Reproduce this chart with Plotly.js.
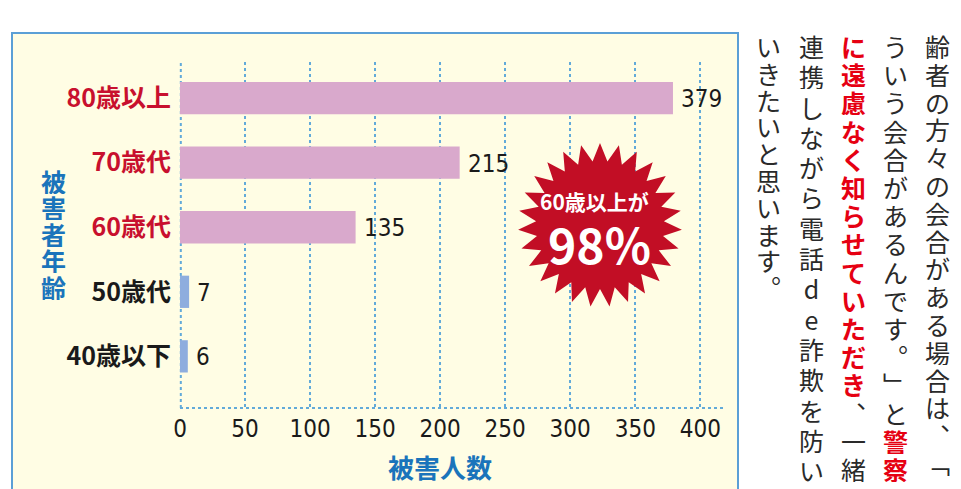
<!DOCTYPE html>
<html>
<head>
<meta charset="utf-8">
<script src="https://cdn.plot.ly/plotly-3.0.1.min.js"></script>
<style>
  html, body { margin: 0; padding: 0; background: #ffffff; }
  #chart { width: 961px; height: 489px; }
</style>
</head>
<body>
<div id="chart"></div>
<script>
// ---------- data ----------
const categories = ["40歳以下", "50歳代", "60歳代", "70歳代", "80歳以上"];
const victims = [6, 7, 135, 215, 379];
const xTickVals = [0, 50, 100, 150, 200, 250, 300, 350, 400];
const xTickLabels = ["0", "50", "100", "150", "200", "250", "300", "350", "400"];
const yTitle = "被害者年齢";
const xTitle = "被害人数";
const badgeLine1 = "60歳以上が";
const badgeLine2 = "98%";
const elderlyCategories = ["60歳代", "70歳代", "80歳以上"];

// article text (vertical, right to left)
const articleColumns = [
  "齢者の方々の会合がある場合は︑﹁",
  "ういう会合があるんです︒﹂と警察",
  "に遠慮なく知らせていただき︑一緒",
  "連携しながら電話de詐欺を防い",
  "いきたいと思います︒"
];
const articleRed = [
  [],
  [14, 15],
  [0,1,2,3,4,5,6,7,8,9,10,11,12],
  [],
  []
];

// ---------- styles ----------
const PINK = "#d9a9cc", LIGHTBLUE = "#8eadde";
const RED_LABEL = "#c8102e", BLUE_TITLE = "#1a74bb", GRID = "#62aad9";
const CJK = "'Noto Sans CJK JP', 'Noto Sans', sans-serif";
const NARROW = "'Liberation Sans Narrow', 'DejaVu Sans Condensed', 'Roboto Condensed', sans-serif";

const L = 180, R = 725, T = 62, B = 408;
const px = p => (p - L) / (R - L);
const py = p => (B - p) / (B - T);

const isElderly = c => elderlyCategories.indexOf(c) >= 0;
const barColors = categories.map(c => isElderly(c) ? PINK : LIGHTBLUE);
const tickText = categories.map(c =>
  `<span style="color:${isElderly(c) ? RED_LABEL : '#1a1a1a'}">${c}</span>`);

const trace = {
  type: "bar",
  orientation: "h",
  x: victims,
  y: categories,
  marker: { color: barColors, line: { width: 0 } },
  width: 0.5,
  hoverinfo: "x+y",
  cliponaxis: false
};

// ---------- annotations ----------
const annotations = [];
// value labels
categories.forEach((c, i) => {
  annotations.push({
    x: victims[i], y: c, xref: "x", yref: "y",
    text: String(victims[i]), showarrow: false,
    xanchor: "left", yanchor: "middle", xshift: 6, yshift: -1,
    font: { family: NARROW, size: 24, color: "#1a1a1a" }
  });
});
// y title (vertical)
Array.from(yTitle).forEach((ch, i) => {
  annotations.push({
    x: px(53), y: py(181 + i * 26.4), xref: "paper", yref: "paper",
    text: ch, showarrow: false, xanchor: "center", yanchor: "middle",
    height: 26, width: 27,
    font: { family: CJK, size: 25, color: BLUE_TITLE, weight: "bold" }
  });
});
// x title
annotations.push({
  x: px(440), y: py(467), xref: "paper", yref: "paper",
  text: xTitle, showarrow: false, xanchor: "center", yanchor: "middle",
  font: { family: CJK, size: 26, color: BLUE_TITLE, weight: "bold" }
});
// badge text
annotations.push({
  x: px(594), y: py(201), xref: "paper", yref: "paper",
  text: badgeLine1, showarrow: false, xanchor: "center", yanchor: "middle",
  font: { family: CJK, size: 21, color: "#ffffff", weight: "bold" }
});
annotations.push({
  x: px(599), y: py(243), xref: "paper", yref: "paper",
  text: badgeLine2, showarrow: false, xanchor: "center", yanchor: "middle",
  font: { family: CJK, size: 48, color: "#ffffff", weight: "bold" }
});
// vertical article text
const colX = [937, 895, 853, 811, 768];
const colPitch = [27.8, 28.2, 28.2, 30.3, 26.8];
articleColumns.forEach((col, ci) => {
  Array.from(col).forEach((ch, i) => {
    const red = articleRed[ci].indexOf(i) >= 0;
    annotations.push({
      x: px(colX[ci]), y: py(46 + i * colPitch[ci]), xref: "paper", yref: "paper",
      text: ch, showarrow: false, xanchor: "center", yanchor: "middle",
      height: 26, width: 27,
      font: { family: CJK, size: 25, color: red ? "#e60012" : "#2a2a2a",
              weight: red ? 600 : "normal" }
    });
  });
});

// ---------- shapes ----------
function starPath(cx, cy, rOut, rIn, n) {
  let d = "";
  for (let k = 0; k < 2 * n; k++) {
    const a = -Math.PI / 2 + k * Math.PI / n;
    const r = (k % 2 === 0) ? rOut : rIn;
    const X = px(cx + r * Math.cos(a)), Y = py(cy + r * Math.sin(a));
    d += (k === 0 ? "M" : "L") + X.toFixed(5) + "," + Y.toFixed(5);
  }
  return d + "Z";
}
const shapes = [
  { type: "rect", xref: "paper", yref: "paper", layer: "below",
    x0: px(12), x1: px(738), y0: py(33), y1: py(520),
    fillcolor: "#fffde4", line: { color: "#5b9fd6", width: 2 } },
  { type: "line", xref: "paper", yref: "paper", layer: "below",
    x0: 0, x1: 1, y0: 0, y1: 0, line: { color: GRID, width: 2, dash: "dot" } },
  { type: "line", xref: "paper", yref: "paper", layer: "below",
    x0: 0.0015, x1: 0.0015, y0: 0, y1: 1, line: { color: GRID, width: 2, dash: "dot" } },
  { type: "path", xref: "paper", yref: "paper", layer: "above",
    path: starPath(600, 225, 82, 64, 27), fillcolor: "#c20e25", line: { width: 0 } }
];

const layout = {
  width: 961, height: 489,
  margin: { l: L, r: 961 - R, t: T, b: 489 - B, pad: 0 },
  paper_bgcolor: "#ffffff",
  plot_bgcolor: "rgba(0,0,0,0)",
  showlegend: false,
  bargap: 0.5,
  xaxis: {
    range: [0, 419], tickvals: xTickVals, ticktext: xTickLabels,
    showgrid: true, gridcolor: GRID, gridwidth: 2, griddash: "dot",
    zeroline: false, showline: false, ticks: "", ticklabelstandoff: 4,
    tickfont: { family: NARROW, size: 24, color: "#1a1a1a" },
    fixedrange: true
  },
  yaxis: {
    type: "category", range: [-0.8, 4.56],
    tickvals: categories, ticktext: tickText,
    showgrid: false, zeroline: false, showline: false, ticks: "",
    ticklabelstandoff: 8,
    tickfont: { family: CJK, size: 25, color: "#1a1a1a", weight: "bold" },
    fixedrange: true
  },
  shapes: shapes,
  annotations: annotations
};

Plotly.newPlot("chart", [trace], layout, { displayModeBar: false, staticPlot: true });
</script>
</body>
</html>
